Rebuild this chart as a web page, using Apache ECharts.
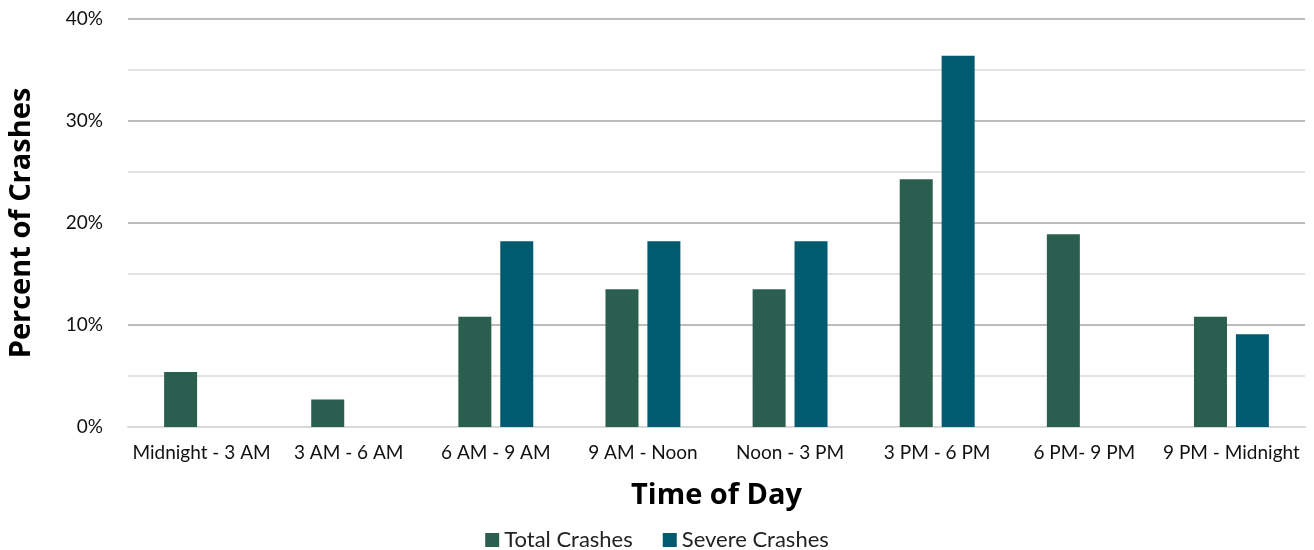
<!DOCTYPE html>
<html>
<head>
<meta charset="utf-8">
<script src="https://cdn.jsdelivr.net/npm/echarts@6/dist/echarts.min.js"></script>
<style>
  html, body { margin: 0; padding: 0; background: #fff; }
  #chart { width: 1314px; height: 550px; }
</style>
</head>
<body>
<div id="chart"></div>
<script>
// chart data
var categories = ["Midnight - 3 AM", "3 AM - 6 AM", "6 AM - 9 AM", "9 AM - Noon", "Noon - 3 PM", "3 PM - 6 PM", "6 PM- 9 PM", "9 PM - Midnight"];
var totalCrashes = [5.4, 2.7, 10.8, 13.5, 13.5, 24.3, 18.9, 10.8];
var severeCrashes = [0, 0, 18.2, 18.2, 18.2, 36.4, 0, 9.1];
var seriesNames = ["Total Crashes", "Severe Crashes"];

var chart = echarts.init(document.getElementById('chart'));
var fontFam = "Lato, 'Open Sans', sans-serif";
var titleFam = "'Open Sans', Lato, sans-serif";

var option = {
    animation: false,
    textStyle: { fontFamily: fontFam },
    color: ["#2a5f4f", "#005b70"],
    grid: { left: 128, right: 9, top: 19, bottom: 123, outerBoundsMode: 'none', containLabel: false },
    legend: {
        top: 524,
        left: 'center',
        itemWidth: 14,
        itemHeight: 14,
        itemGap: 30,
        icon: 'rect',
        textStyle: { fontSize: 22, color: '#222', fontFamily: fontFam },
        data: seriesNames
    },
    xAxis: {
        type: 'category',
        data: categories,
        name: 'Time of Day',
        nameLocation: 'middle',
        nameGap: 54,
        nameTextStyle: { fontSize: 29, fontWeight: 'bold', color: '#000', fontFamily: titleFam },
        axisLine: { lineStyle: { color: '#d9d9d9', width: 2 } },
        axisTick: { show: false },
        axisLabel: { fontSize: 19, color: '#111', margin: 16, interval: 0 }
    },
    yAxis: {
        type: 'value',
        min: 0,
        max: 40,
        interval: 10,
        name: 'Percent of Crashes',
        nameLocation: 'middle',
        nameGap: 92,
        nameTextStyle: { fontSize: 29, fontWeight: 'bold', color: '#000', fontFamily: titleFam },
        axisLine: { show: false },
        axisTick: { show: false },
        axisLabel: { formatter: '{value}%', fontSize: 19, color: '#111', margin: 25 },
        splitLine: { lineStyle: { color: '#a6a6a6', width: 1.5 } },
        minorTick: { show: false, splitNumber: 2 },
        minorSplitLine: { show: true, lineStyle: { color: '#d9d9d9', width: 1.5 } }
    },
    series: [
        {
            name: seriesNames[0],
            type: 'bar',
            data: totalCrashes,
            barWidth: 33,
            barGap: '27%'
        },
        {
            name: seriesNames[1],
            type: 'bar',
            data: severeCrashes,
            barWidth: 33,
            barGap: '27%'
        }
    ]
};
chart.setOption(option);
</script>
</body>
</html>
